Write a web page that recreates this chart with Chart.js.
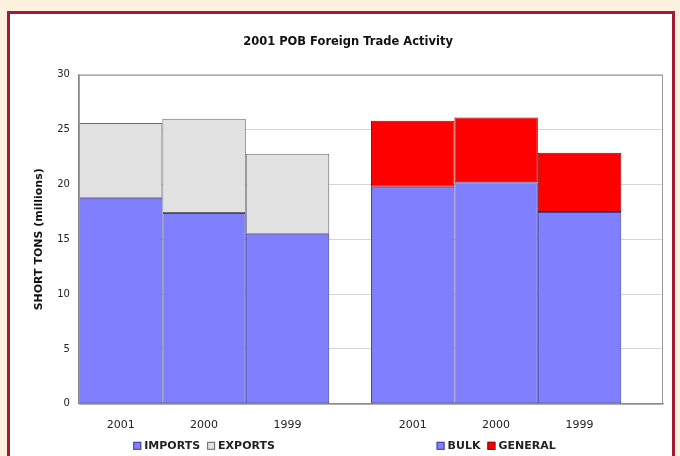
<!DOCTYPE html>
<html lang="en">
<head>
    <meta charset="UTF-8">
    <script src="https://cdn.jsdelivr.net/npm/chart.js"></script>
    <title>2001 POB Foreign Trade Activity</title>
    <style>
        html, body { margin: 0; padding: 0; background: #fdf0dd; }
        #wrap { position: relative; width: 680px; height: 456px; overflow: hidden; }
        #frame {
            position: absolute; left: 7px; top: 11px; width: 662px; height: 470px;
            border: 3px solid #a11a38; background: #ffffff;
        }
        #tradeChart { position: absolute; left: 0; top: 0; }
    </style>
</head>
<body>
<div id="wrap">
    <div id="frame"></div>
    <canvas id="tradeChart" width="680" height="456"></canvas>
</div>
<script>
    // values (millions of short tons)
    const years = ['2001', '2000', '1999'];
    const imports = [18.8, 17.4, 15.5];
    const exportsVals = [6.8, 8.6, 7.3];
    const bulk = [19.8, 20.2, 17.5];
    const general = [6.0, 5.9, 5.4];

    // half-width slots on the x axis: bars sit on odd slots, a gap between the two groups
    const slotCount = 15;
    const leftSlots = [1, 3, 5];
    const rightSlots = [8, 10, 12];

    function spread(values, slots) {
        const out = new Array(slotCount).fill(null);
        slots.forEach((s, i) => { out[s] = values[i]; });
        return out;
    }

    const labels = new Array(slotCount).fill('');
    leftSlots.forEach((s, i) => { labels[s] = years[i]; });
    rightSlots.forEach((s, i) => { labels[s] = years[i]; });

    const FONT = 'DejaVu Sans';

    // draws the plot frame and one small legend under each group
    const groupLegends = {
        id: 'groupLegends',
        afterDraw(chart) {
            const ctx = chart.ctx;
            const area = chart.chartArea;
            const xs = chart.scales.x;

            ctx.save();
            ctx.strokeStyle = '#9a9a9a';
            ctx.lineWidth = 1;
            ctx.strokeRect(area.left + 0.5, area.top + 0.5, area.right - area.left - 1, area.bottom - area.top);

            const groups = [
                { sets: [0, 1], slots: leftSlots },
                { sets: [2, 3], slots: rightSlots }
            ];
            ctx.font = 'bold 11px "' + FONT + '"';
            ctx.textBaseline = 'middle';
            const box = 8, gap = 3, space = 7;
            const y = area.bottom + 42;
            groups.forEach(g => {
                const items = g.sets.map(i => chart.data.datasets[i]);
                let total = 0;
                items.forEach((d, k) => {
                    total += box + gap + ctx.measureText(d.label).width;
                    if (k < items.length - 1) total += space;
                });
                let x = xs.getPixelForValue(g.slots[1]) - total / 2;
                items.forEach(d => {
                    ctx.fillStyle = d.backgroundColor;
                    ctx.fillRect(x, y - box / 2, box, box);
                    ctx.strokeStyle = d.borderColor;
                    ctx.strokeRect(x + 0.5, y - box / 2 + 0.5, box - 1, box - 1);
                    x += box + gap;
                    ctx.fillStyle = '#222';
                    ctx.fillText(d.label, x, y);
                    x += ctx.measureText(d.label).width + space;
                });
            });
            ctx.restore();
        }
    };

    const ctx = document.getElementById('tradeChart').getContext('2d');

    const tradeChart = new Chart(ctx, {
        type: 'bar',
        data: {
            labels: labels,
            datasets: [
                { label: 'IMPORTS', data: spread(imports, leftSlots), backgroundColor: '#8080ff', borderColor: '#3f3f9c' },
                { label: 'EXPORTS', data: spread(exportsVals, leftSlots), backgroundColor: '#e2e2e2', borderColor: '#6a6a6a' },
                { label: 'BULK', data: spread(bulk, rightSlots), backgroundColor: '#8080ff', borderColor: '#3f3f9c' },
                { label: 'GENERAL', data: spread(general, rightSlots), backgroundColor: '#ff0000', borderColor: '#980000' }
            ]
        },
        options: {
            responsive: false,
            animation: false,
            datasets: {
                bar: {
                    borderWidth: 1,
                    borderSkipped: false,
                    barPercentage: 1,
                    categoryPercentage: 2 // each bar covers two half slots
                }
            },
            layout: { padding: { left: 33, right: 17, top: 0, bottom: 9 } },
            plugins: {
                legend: { display: false },
                tooltip: { enabled: false },
                title: {
                    display: true,
                    text: '2001 POB Foreign Trade Activity',
                    color: '#111',
                    font: { family: FONT, size: 11.5, weight: 'bold' },
                    padding: { top: 35, bottom: 26 }
                }
            },
            scales: {
                x: {
                    stacked: true,
                    offset: false,
                    grid: { display: false, drawTicks: false },
                    border: { display: true, color: '#888' },
                    ticks: {
                        autoSkip: false,
                        maxRotation: 0,
                        padding: 15,
                        color: '#222',
                        font: { family: FONT, size: 11 }
                    }
                },
                y: {
                    stacked: true,
                    min: 0,
                    max: 30,
                    grid: { color: '#d6d6d6', drawTicks: false },
                    border: { display: true, color: '#888' },
                    ticks: {
                        stepSize: 5,
                        padding: 9,
                        color: '#222',
                        font: { family: FONT, size: 10 }
                    },
                    title: {
                        display: true,
                        text: 'SHORT TONS (millions)',
                        color: '#111',
                        font: { family: FONT, size: 11, weight: 'bold' },
                        padding: { top: 0, bottom: 2 }
                    }
                }
            }
        },
        plugins: [groupLegends]
    });
</script>
</body>
</html>
